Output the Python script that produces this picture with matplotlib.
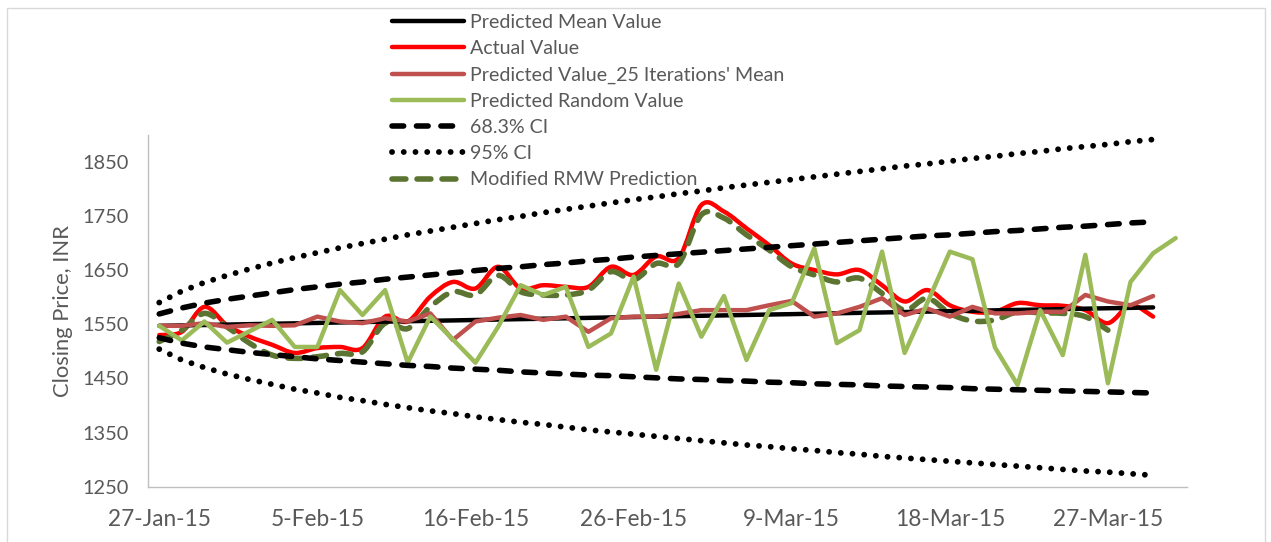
import matplotlib.pyplot as plt
from matplotlib.path import Path
from matplotlib.patches import PathPatch, Rectangle
from matplotlib.lines import Line2D

plt.rcParams['font.family'] = ['Lato', 'DejaVu Sans']

# trading days (category axis)
dates = ["27-Jan-15", "28-Jan-15", "29-Jan-15", "30-Jan-15",
         "2-Feb-15", "3-Feb-15", "4-Feb-15", "5-Feb-15", "6-Feb-15", "9-Feb-15",
         "10-Feb-15", "11-Feb-15", "12-Feb-15", "13-Feb-15", "16-Feb-15", "18-Feb-15",
         "19-Feb-15", "20-Feb-15", "23-Feb-15", "24-Feb-15", "25-Feb-15", "26-Feb-15",
         "27-Feb-15", "28-Feb-15", "2-Mar-15", "3-Mar-15", "4-Mar-15", "5-Mar-15",
         "9-Mar-15", "10-Mar-15", "11-Mar-15", "12-Mar-15", "13-Mar-15", "16-Mar-15",
         "17-Mar-15", "18-Mar-15", "19-Mar-15", "20-Mar-15", "23-Mar-15", "24-Mar-15",
         "25-Mar-15", "26-Mar-15", "27-Mar-15", "30-Mar-15", "31-Mar-15", "1-Apr-15"]

predicted_mean = [1547.0, 1547.8, 1548.5, 1549.3, 1550.1, 1550.9, 1551.6, 1552.4, 1553.2, 1554.0,
                  1554.7, 1555.5, 1556.3, 1557.0, 1557.8, 1558.6, 1559.4, 1560.1, 1560.9, 1561.7,
                  1562.5, 1563.2, 1564.0, 1564.8, 1565.6, 1566.3, 1567.1, 1567.9, 1568.6, 1569.4,
                  1570.2, 1571.0, 1571.7, 1572.5, 1573.3, 1574.1, 1574.8, 1575.6, 1576.4, 1577.1,
                  1577.9, 1578.7, 1579.5, 1580.2, 1581.0]

actual = [1530, 1536, 1582, 1548, 1527, 1512, 1497, 1506, 1508, 1506,
          1564, 1555, 1601, 1628, 1616, 1656, 1616, 1622, 1619, 1619,
          1656, 1641, 1675, 1672, 1770, 1758, 1727, 1696, 1662, 1650,
          1642, 1650, 1622, 1592, 1613, 1585, 1573, 1573, 1589, 1585,
          1584, 1576, 1552, 1585, 1564]

iter25_mean = [1547, 1547, 1552, 1545, 1548, 1547, 1548, 1564, 1555, 1552,
               1561, 1555, 1570, 1521, 1555, 1562, 1567, 1558, 1564, 1536,
               1561, 1564, 1564, 1569, 1576, 1576, 1576, 1585, 1593, 1564,
               1570, 1582, 1598, 1567, 1579, 1564, 1582, 1570, 1570, 1573,
               1573, 1604, 1592, 1585, 1602]

random_pred = [1547, 1520, 1555, 1516, 1537, 1558, 1508, 1508, 1613, 1567,
               1613, 1479, 1564, 1522, 1479, 1545, 1622, 1604, 1619, 1508,
               1533, 1638, 1466, 1625, 1527, 1602, 1484, 1576, 1589, 1690,
               1515, 1539, 1684, 1497, 1589, 1684, 1670, 1507, 1438, 1576,
               1493, 1678, 1441, 1628, 1681, 1709]

ci68_upper = [1569, 1580, 1589, 1596, 1602, 1608, 1614, 1619, 1624, 1628,
              1633, 1637, 1641, 1645, 1649, 1653, 1656, 1660, 1663, 1667,
              1670, 1674, 1677, 1680, 1683, 1686, 1689, 1692, 1695, 1698,
              1701, 1704, 1707, 1710, 1713, 1715, 1718, 1721, 1723, 1726,
              1729, 1731, 1734, 1737, 1739]
ci68_lower = [1525, 1515, 1508, 1503, 1498, 1494, 1490, 1486, 1483, 1480,
              1477, 1474, 1472, 1469, 1467, 1465, 1462, 1460, 1458, 1456,
              1455, 1453, 1451, 1449, 1448, 1446, 1445, 1443, 1442, 1440,
              1439, 1438, 1436, 1435, 1434, 1433, 1431, 1430, 1429, 1428,
              1427, 1426, 1425, 1424, 1423]
ci95_upper = [1590, 1611, 1627, 1640, 1652, 1663, 1673, 1682, 1691, 1699,
              1707, 1715, 1722, 1729, 1736, 1743, 1749, 1756, 1762, 1768,
              1774, 1780, 1785, 1791, 1796, 1802, 1807, 1812, 1817, 1822,
              1827, 1832, 1837, 1842, 1846, 1851, 1856, 1860, 1865, 1869,
              1874, 1878, 1882, 1887, 1891]
ci95_lower = [1504, 1484, 1470, 1458, 1448, 1439, 1430, 1423, 1415, 1409,
              1402, 1396, 1390, 1385, 1379, 1374, 1369, 1365, 1360, 1355,
              1351, 1347, 1343, 1339, 1335, 1331, 1327, 1324, 1320, 1317,
              1313, 1310, 1306, 1303, 1300, 1297, 1294, 1291, 1288, 1285,
              1282, 1279, 1277, 1274, 1271]

rmw_pred = [1518, 1539, 1570, 1545, 1515, 1493, 1487, 1490, 1496, 1499,
            1552, 1542, 1582, 1610, 1604, 1640, 1610, 1604, 1604, 1613,
            1647, 1632, 1662, 1662, 1752, 1746, 1715, 1687, 1656, 1641,
            1628, 1635, 1607, 1576, 1598, 1570, 1556, 1558, 1573, 1571,
            1570, 1564, 1539]

labels = ["Predicted Mean Value", "Actual Value", "Predicted Value_25 Iterations' Mean",
          "Predicted Random Value", "68.3% CI", "95% CI", "Modified RMW Prediction"]


def smooth_path(ys):
    # Excel style smoothed line: cubic bezier segments through every point
    pts = list(enumerate(ys))
    verts = [pts[0]]
    codes = [Path.MOVETO]
    for i in range(len(pts) - 1):
        p0 = pts[i - 1] if i > 0 else pts[i]
        p1 = pts[i]
        p2 = pts[i + 1]
        p3 = pts[i + 2] if i + 2 < len(pts) else pts[i + 1]
        c1 = (p1[0] + (p2[0] - p0[0]) / 6, p1[1] + (p2[1] - p0[1]) / 6)
        c2 = (p2[0] - (p3[0] - p1[0]) / 6, p2[1] - (p3[1] - p1[1]) / 6)
        verts += [c1, c2, p2]
        codes += [Path.CURVE4] * 3
    return Path(verts, codes)


fig = plt.figure(figsize=(12.71, 5.42), dpi=100)
ax = fig.add_axes([0.1164, 0.102, 0.8175, 0.6496])

lw = 3.2
dash_style = (0, (2.1, 2.3))
dot_lw = 4.2
dot_style = (0, (0.01, 2.0))
rmw_color = '#5b7431'

ax.plot(range(len(predicted_mean)), predicted_mean, color='black', lw=lw, solid_capstyle='round')
ax.add_patch(PathPatch(smooth_path(actual), fill=False, edgecolor='#ff0000', lw=lw,
                       capstyle='round', joinstyle='round'))
ax.plot(range(len(iter25_mean)), iter25_mean, color='#c0504d', lw=lw, solid_capstyle='round')
ax.plot(range(len(random_pred)), random_pred, color='#9bbb59', lw=lw, solid_capstyle='round')
for ci in (ci68_upper, ci68_lower):
    ax.plot(range(len(ci)), ci, color='black', lw=4, linestyle=dash_style, dash_capstyle='round')
for ci in (ci95_upper, ci95_lower):
    ax.plot(range(len(ci)), ci, color='black', lw=dot_lw, linestyle=dot_style, dash_capstyle='round')
ax.add_patch(PathPatch(smooth_path(rmw_pred), fill=False, edgecolor=rmw_color, lw=4,
                       capstyle='round', linestyle=(0, (2.5, 2.0))))

ax.set_xlim(-0.5, len(dates) - 0.5)
ax.set_ylim(1250, 1900)
ax.set_yticks(range(1250, 1900, 100))
ticks = list(range(0, len(dates), 7))
ax.set_xticks(ticks)
ax.set_xticklabels([dates[i] for i in ticks])
ax.tick_params(axis='both', length=0, labelcolor='#595959')
ax.tick_params(axis='x', pad=16, labelsize=16.3)
ax.tick_params(axis='y', pad=14, labelsize=14.4)
for s in ('top', 'right'):
    ax.spines[s].set_visible(False)
for s in ('left', 'bottom'):
    ax.spines[s].set_color('#bfbfbf')
    ax.spines[s].set_linewidth(1)
ax.set_ylabel("Closing Price, INR", fontsize=15.8, color='#595959')
ax.yaxis.set_label_coords(-0.072, 0.5)

handles = [
    Line2D([], [], color='black', lw=lw, solid_capstyle='round'),
    Line2D([], [], color='#ff0000', lw=lw, solid_capstyle='round'),
    Line2D([], [], color='#c0504d', lw=lw, solid_capstyle='round'),
    Line2D([], [], color='#9bbb59', lw=lw, solid_capstyle='round'),
    Line2D([], [], color='black', lw=4, linestyle=dash_style, dash_capstyle='round'),
    Line2D([], [], color='black', lw=dot_lw, linestyle=dot_style, dash_capstyle='round'),
    Line2D([], [], color=rmw_color, lw=4, linestyle=(0, (2.5, 2.0)), dash_capstyle='round'),
]
leg = fig.legend(handles, labels, loc='upper left', bbox_to_anchor=(392 / 1271, 1 - 14 / 542),
                 frameon=False, fontsize=14.1, handlelength=3.7, handletextpad=0.28,
                 labelspacing=0.47, borderpad=0, borderaxespad=0)
for t in leg.get_texts():
    t.set_color('#595959')

# chart border
fig.patches.append(Rectangle((7 / 1271, -0.02), 1258 / 1271, 1.02 - 8 / 542, transform=fig.transFigure,
                             fill=False, edgecolor='#d9d9d9', lw=1))

fig.savefig('out.png', dpi=100)
